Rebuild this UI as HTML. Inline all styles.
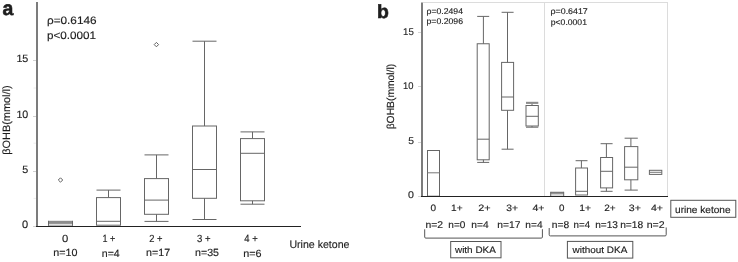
<!DOCTYPE html>
<html><head><meta charset="utf-8"><style>
html,body{margin:0;padding:0;background:#fff;}
body{width:738px;height:262px;overflow:hidden;}
svg{display:block;}
text{font-family:"Liberation Sans",Arial,sans-serif;text-rendering:geometricPrecision;}
</style></head><body>
<svg width="738" height="262" viewBox="0 0 738 262">
<rect width="738" height="262" fill="#fff"/>
<text transform="translate(2.42,15.00) scale(0.982,1)" style="font-size:19.80px;font-weight:bold;fill:#1e1e1e;stroke:#1e1e1e;stroke-width:0.6px;">a</text>
<line x1="37" y1="2" x2="37" y2="226.5" stroke="#7c7c7c" stroke-width="2"/>
<line x1="33" y1="226.5" x2="36" y2="226.5" stroke="#d0d0d0" stroke-width="1"/>
<line x1="33" y1="171.5" x2="36" y2="171.5" stroke="#d0d0d0" stroke-width="1"/>
<line x1="33" y1="116.5" x2="36" y2="116.5" stroke="#d0d0d0" stroke-width="1"/>
<line x1="33" y1="60.5" x2="36" y2="60.5" stroke="#d0d0d0" stroke-width="1"/>
<line x1="33.5" y1="198.4" x2="36" y2="198.4" stroke="#ececec" stroke-width="1"/>
<line x1="33.5" y1="143.2" x2="36" y2="143.2" stroke="#ececec" stroke-width="1"/>
<line x1="33.5" y1="88.0" x2="36" y2="88.0" stroke="#ececec" stroke-width="1"/>
<text transform="translate(16.39,61.60) scale(1.015,1)" style="font-size:10.60px;fill:#1e1e1e;stroke:#1e1e1e;stroke-width:0.15px;">15</text>
<text transform="translate(16.40,117.60) scale(1.009,1)" style="font-size:10.60px;fill:#1e1e1e;stroke:#1e1e1e;stroke-width:0.15px;">10</text>
<text transform="translate(22.37,173.10) scale(1.013,1)" style="font-size:10.60px;fill:#1e1e1e;stroke:#1e1e1e;stroke-width:0.15px;">5</text>
<text transform="translate(21.96,228.10) scale(1.042,1)" style="font-size:10.60px;fill:#1e1e1e;stroke:#1e1e1e;stroke-width:0.15px;">0</text>
<text transform="translate(10.30,154.76) rotate(-90) scale(1.030,1)" style="font-size:10.60px;fill:#1e1e1e;stroke:#1e1e1e;stroke-width:0.15px;">βOHB(mmol/l)</text>
<text transform="translate(46.93,23.80) scale(1.092,1)" style="font-size:10.80px;fill:#1e1e1e;stroke:#1e1e1e;stroke-width:0.15px;">ρ=0.6146</text>
<text transform="translate(46.94,38.60) scale(1.082,1)" style="font-size:10.80px;fill:#1e1e1e;stroke:#1e1e1e;stroke-width:0.15px;">p&lt;0.0001</text>
<rect x="48.5" y="220.8" width="24" height="3.1" fill="#8c8c8c"/>
<line x1="48.5" y1="220.8" x2="48.5" y2="226" stroke="#666" stroke-width="1"/>
<line x1="72.5" y1="220.8" x2="72.5" y2="226" stroke="#666" stroke-width="1"/>
<line x1="48.5" y1="225.2" x2="72.5" y2="225.2" stroke="#999" stroke-width="1"/>
<path d="M60.5 177.8L62.7 180L60.5 182.2L58.3 180Z" fill="none" stroke="#606060" stroke-width="1"/>
<line x1="96.5" y1="190.1" x2="120.5" y2="190.1" stroke="#666" stroke-width="1"/>
<line x1="108.5" y1="190.1" x2="108.5" y2="197.6" stroke="#666" stroke-width="1"/>
<rect x="96.5" y="197.6" width="24.0" height="27.599999999999994" stroke="#666" stroke-width="1" fill="none"/>
<line x1="96.5" y1="221.3" x2="120.5" y2="221.3" stroke="#666" stroke-width="1"/>
<line x1="144.5" y1="154.9" x2="168.5" y2="154.9" stroke="#666" stroke-width="1"/>
<line x1="156.5" y1="154.9" x2="156.5" y2="178.6" stroke="#666" stroke-width="1"/>
<line x1="144.5" y1="221.4" x2="168.5" y2="221.4" stroke="#666" stroke-width="1"/>
<line x1="156.5" y1="214.3" x2="156.5" y2="221.4" stroke="#666" stroke-width="1"/>
<rect x="144.5" y="178.6" width="24.0" height="35.70000000000002" stroke="#666" stroke-width="1" fill="none"/>
<line x1="144.5" y1="200.1" x2="168.5" y2="200.1" stroke="#666" stroke-width="1"/>
<path d="M156.4 42.4L158.6 44.6L156.4 46.800000000000004L154.20000000000002 44.6Z" fill="none" stroke="#606060" stroke-width="1"/>
<line x1="192.5" y1="41.2" x2="216.5" y2="41.2" stroke="#666" stroke-width="1"/>
<line x1="204.5" y1="41.2" x2="204.5" y2="126.0" stroke="#666" stroke-width="1"/>
<line x1="192.5" y1="219.5" x2="216.5" y2="219.5" stroke="#666" stroke-width="1"/>
<line x1="204.5" y1="198.3" x2="204.5" y2="219.5" stroke="#666" stroke-width="1"/>
<rect x="192.5" y="126.0" width="24.0" height="72.30000000000001" stroke="#666" stroke-width="1" fill="none"/>
<line x1="192.5" y1="169.5" x2="216.5" y2="169.5" stroke="#666" stroke-width="1"/>
<line x1="240.5" y1="131.9" x2="264.5" y2="131.9" stroke="#666" stroke-width="1"/>
<line x1="252.5" y1="131.9" x2="252.5" y2="138.6" stroke="#666" stroke-width="1"/>
<line x1="240.5" y1="204.2" x2="264.5" y2="204.2" stroke="#666" stroke-width="1"/>
<line x1="252.5" y1="200.8" x2="252.5" y2="204.2" stroke="#666" stroke-width="1"/>
<rect x="240.5" y="138.6" width="24.0" height="62.20000000000002" stroke="#666" stroke-width="1" fill="none"/>
<line x1="240.5" y1="153.3" x2="264.5" y2="153.3" stroke="#666" stroke-width="1"/>
<line x1="36" y1="226.5" x2="301" y2="226.5" stroke="#222" stroke-width="1"/>
<text transform="translate(61.95,241.90) scale(1.082,1)" style="font-size:10.40px;fill:#1e1e1e;stroke:#1e1e1e;stroke-width:0.15px;">0</text>
<text transform="translate(102.42,241.90) scale(0.869,1)" style="font-size:10.40px;fill:#1e1e1e;stroke:#1e1e1e;stroke-width:0.15px;">1 +</text>
<text transform="translate(149.23,241.90) scale(0.903,1)" style="font-size:10.40px;fill:#1e1e1e;stroke:#1e1e1e;stroke-width:0.15px;">2 +</text>
<text transform="translate(197.02,241.90) scale(0.918,1)" style="font-size:10.40px;fill:#1e1e1e;stroke:#1e1e1e;stroke-width:0.15px;">3 +</text>
<text transform="translate(244.31,241.90) scale(0.912,1)" style="font-size:10.40px;fill:#1e1e1e;stroke:#1e1e1e;stroke-width:0.15px;">4 +</text>
<text transform="translate(53.30,256.40) scale(1.033,1)" style="font-size:10.40px;fill:#1e1e1e;stroke:#1e1e1e;stroke-width:0.15px;">n=10</text>
<text transform="translate(101.81,256.50) scale(1.016,1)" style="font-size:10.40px;fill:#1e1e1e;stroke:#1e1e1e;stroke-width:0.15px;">n=4</text>
<text transform="translate(146.11,256.40) scale(1.027,1)" style="font-size:10.40px;fill:#1e1e1e;stroke:#1e1e1e;stroke-width:0.15px;">n=17</text>
<text transform="translate(195.11,256.40) scale(1.022,1)" style="font-size:10.40px;fill:#1e1e1e;stroke:#1e1e1e;stroke-width:0.15px;">n=35</text>
<text transform="translate(243.30,256.50) scale(1.040,1)" style="font-size:10.40px;fill:#1e1e1e;stroke:#1e1e1e;stroke-width:0.15px;">n=6</text>
<text transform="translate(289.41,247.50) scale(0.981,1)" style="font-size:10.80px;fill:#1e1e1e;stroke:#1e1e1e;stroke-width:0.15px;">Urine ketone</text>
<text transform="translate(376.94,18.10) scale(1.021,1)" style="font-size:19.00px;font-weight:bold;fill:#1e1e1e;stroke:#1e1e1e;stroke-width:0.6px;">b</text>
<line x1="423" y1="2.5" x2="668" y2="2.5" stroke="#dcdcdc" stroke-width="1"/>
<line x1="667.5" y1="2.5" x2="667.5" y2="196" stroke="#dcdcdc" stroke-width="1"/>
<line x1="544.5" y1="2.5" x2="544.5" y2="196" stroke="#dcdcdc" stroke-width="1"/>
<line x1="422" y1="2.5" x2="422" y2="196.5" stroke="#7c7c7c" stroke-width="2"/>
<line x1="418" y1="32.5" x2="421" y2="32.5" stroke="#d4d4d4" stroke-width="1"/>
<line x1="418" y1="86.5" x2="421" y2="86.5" stroke="#d4d4d4" stroke-width="1"/>
<line x1="418" y1="142.5" x2="421" y2="142.5" stroke="#d4d4d4" stroke-width="1"/>
<line x1="418" y1="196.5" x2="421" y2="196.5" stroke="#d4d4d4" stroke-width="1"/>
<text transform="translate(403.08,34.50) scale(0.985,1)" style="font-size:9.80px;fill:#1e1e1e;stroke:#1e1e1e;stroke-width:0.15px;">15</text>
<text transform="translate(403.00,88.50) scale(0.959,1)" style="font-size:9.80px;fill:#1e1e1e;stroke:#1e1e1e;stroke-width:0.15px;">10</text>
<text transform="translate(408.19,143.80) scale(1.053,1)" style="font-size:9.80px;fill:#1e1e1e;stroke:#1e1e1e;stroke-width:0.15px;">5</text>
<text transform="translate(407.97,198.30) scale(1.084,1)" style="font-size:9.80px;fill:#1e1e1e;stroke:#1e1e1e;stroke-width:0.15px;">0</text>
<text transform="translate(394.30,129.32) rotate(-90) scale(1.001,1)" style="font-size:10.30px;fill:#1e1e1e;stroke:#1e1e1e;stroke-width:0.15px;">βOHB(mmol/l)</text>
<text transform="translate(426.54,13.50) scale(1.042,1)" style="font-size:8.30px;fill:#1e1e1e;stroke:#1e1e1e;stroke-width:0.15px;">ρ=0.2494</text>
<text transform="translate(426.53,24.30) scale(1.047,1)" style="font-size:8.30px;fill:#1e1e1e;stroke:#1e1e1e;stroke-width:0.15px;">p=0.2096</text>
<text transform="translate(550.53,13.50) scale(1.065,1)" style="font-size:8.30px;fill:#1e1e1e;stroke:#1e1e1e;stroke-width:0.15px;">ρ=0.6417</text>
<text transform="translate(550.74,24.50) scale(1.040,1)" style="font-size:8.30px;fill:#1e1e1e;stroke:#1e1e1e;stroke-width:0.15px;">p&lt;0.0001</text>
<rect x="427.5" y="150.5" width="12.0" height="45.69999999999999" stroke="#666" stroke-width="1" fill="none"/>
<line x1="427.5" y1="172.8" x2="439.5" y2="172.8" stroke="#777" stroke-width="1"/>
<line x1="477.2" y1="16.4" x2="489.2" y2="16.4" stroke="#666" stroke-width="1"/>
<line x1="483.4" y1="16.4" x2="483.4" y2="43.75" stroke="#666" stroke-width="1"/>
<line x1="477.2" y1="162.4" x2="489.2" y2="162.4" stroke="#666" stroke-width="1"/>
<line x1="483.4" y1="159.8" x2="483.4" y2="162.4" stroke="#666" stroke-width="1"/>
<rect x="477.2" y="43.75" width="12.0" height="116.05000000000001" stroke="#666" stroke-width="1" fill="none"/>
<line x1="477.2" y1="139.2" x2="489.2" y2="139.2" stroke="#666" stroke-width="1"/>
<line x1="501.6" y1="12.3" x2="513.6" y2="12.3" stroke="#666" stroke-width="1"/>
<line x1="507.5" y1="12.3" x2="507.5" y2="62.4" stroke="#666" stroke-width="1"/>
<line x1="501.6" y1="149.2" x2="513.6" y2="149.2" stroke="#666" stroke-width="1"/>
<line x1="507.5" y1="110.3" x2="507.5" y2="149.2" stroke="#666" stroke-width="1"/>
<rect x="501.6" y="62.4" width="12.0" height="47.9" stroke="#666" stroke-width="1" fill="none"/>
<line x1="501.6" y1="97.0" x2="513.6" y2="97.0" stroke="#666" stroke-width="1"/>
<rect x="526" y="101.8" width="12.3" height="2.1" fill="#8c8c8c"/>
<line x1="532" y1="103.9" x2="532" y2="105.5" stroke="#666" stroke-width="1"/>
<line x1="526" y1="127.2" x2="538.3" y2="127.2" stroke="#666" stroke-width="1"/>
<line x1="532" y1="126.0" x2="532" y2="127.2" stroke="#666" stroke-width="1"/>
<rect x="526" y="105.5" width="12.299999999999955" height="20.5" stroke="#666" stroke-width="1" fill="none"/>
<line x1="526" y1="116.3" x2="538.3" y2="116.3" stroke="#666" stroke-width="1"/>
<rect x="550.7" y="191.8" width="13" height="4" fill="#d4d4d4"/>
<rect x="550.7" y="191.8" width="13" height="1.9" fill="#7a7a7a"/>
<line x1="550.7" y1="191.8" x2="550.7" y2="196.2" stroke="#666" stroke-width="1"/>
<line x1="563.7" y1="191.8" x2="563.7" y2="196.2" stroke="#666" stroke-width="1"/>
<line x1="575.6" y1="160.7" x2="587.5" y2="160.7" stroke="#666" stroke-width="1"/>
<line x1="581.4" y1="160.7" x2="581.4" y2="168.0" stroke="#666" stroke-width="1"/>
<rect x="575.6" y="168.0" width="11.899999999999977" height="27.0" stroke="#666" stroke-width="1" fill="none"/>
<line x1="575.6" y1="191.3" x2="587.5" y2="191.3" stroke="#666" stroke-width="1"/>
<line x1="600.6" y1="143.7" x2="612.6" y2="143.7" stroke="#666" stroke-width="1"/>
<line x1="606.4" y1="143.7" x2="606.4" y2="157.5" stroke="#666" stroke-width="1"/>
<line x1="600.6" y1="191.3" x2="612.6" y2="191.3" stroke="#666" stroke-width="1"/>
<line x1="606.4" y1="187.9" x2="606.4" y2="191.3" stroke="#666" stroke-width="1"/>
<rect x="600.6" y="157.5" width="12.0" height="30.400000000000006" stroke="#666" stroke-width="1" fill="none"/>
<line x1="600.6" y1="171.3" x2="612.6" y2="171.3" stroke="#666" stroke-width="1"/>
<line x1="624.6" y1="138.2" x2="637.8" y2="138.2" stroke="#666" stroke-width="1"/>
<line x1="630.9" y1="138.2" x2="630.9" y2="146.6" stroke="#666" stroke-width="1"/>
<line x1="624.6" y1="190.1" x2="637.8" y2="190.1" stroke="#666" stroke-width="1"/>
<line x1="630.9" y1="179.8" x2="630.9" y2="190.1" stroke="#666" stroke-width="1"/>
<rect x="624.6" y="146.6" width="13.199999999999932" height="33.20000000000002" stroke="#666" stroke-width="1" fill="none"/>
<line x1="624.6" y1="167.2" x2="637.8" y2="167.2" stroke="#666" stroke-width="1"/>
<rect x="649.4" y="170.3" width="12.399999999999977" height="4.099999999999994" stroke="#666" stroke-width="1" fill="none"/>
<line x1="649.4" y1="172.3" x2="661.8" y2="172.3" stroke="#777" stroke-width="1"/>
<line x1="421" y1="196.5" x2="668" y2="196.5" stroke="#222" stroke-width="1"/>
<text transform="translate(430.60,210.90) scale(1.087,1)" style="font-size:9.20px;fill:#1e1e1e;stroke:#1e1e1e;stroke-width:0.15px;">0</text>
<text transform="translate(451.04,210.90) scale(1.103,1)" style="font-size:9.20px;fill:#1e1e1e;stroke:#1e1e1e;stroke-width:0.15px;">1+</text>
<text transform="translate(478.16,210.90) scale(1.181,1)" style="font-size:9.20px;fill:#1e1e1e;stroke:#1e1e1e;stroke-width:0.15px;">2+</text>
<text transform="translate(506.28,210.90) scale(1.128,1)" style="font-size:9.20px;fill:#1e1e1e;stroke:#1e1e1e;stroke-width:0.15px;">3+</text>
<text transform="translate(532.49,210.90) scale(1.148,1)" style="font-size:9.20px;fill:#1e1e1e;stroke:#1e1e1e;stroke-width:0.15px;">4+</text>
<text transform="translate(559.11,210.90) scale(1.064,1)" style="font-size:9.20px;fill:#1e1e1e;stroke:#1e1e1e;stroke-width:0.15px;">0</text>
<text transform="translate(579.32,210.90) scale(1.124,1)" style="font-size:9.20px;fill:#1e1e1e;stroke:#1e1e1e;stroke-width:0.15px;">1+</text>
<text transform="translate(604.20,210.90) scale(1.087,1)" style="font-size:9.20px;fill:#1e1e1e;stroke:#1e1e1e;stroke-width:0.15px;">2+</text>
<text transform="translate(628.87,210.90) scale(1.159,1)" style="font-size:9.20px;fill:#1e1e1e;stroke:#1e1e1e;stroke-width:0.15px;">3+</text>
<text transform="translate(650.99,210.90) scale(1.148,1)" style="font-size:9.20px;fill:#1e1e1e;stroke:#1e1e1e;stroke-width:0.15px;">4+</text>
<text transform="translate(425.53,228.20) scale(1.059,1)" style="font-size:9.80px;fill:#1e1e1e;stroke:#1e1e1e;stroke-width:0.15px;">n=2</text>
<text transform="translate(448.35,228.20) scale(1.024,1)" style="font-size:9.80px;fill:#1e1e1e;stroke:#1e1e1e;stroke-width:0.15px;">n=0</text>
<text transform="translate(471.34,228.20) scale(1.040,1)" style="font-size:9.80px;fill:#1e1e1e;stroke:#1e1e1e;stroke-width:0.15px;">n=4</text>
<text transform="translate(497.23,228.20) scale(1.047,1)" style="font-size:9.80px;fill:#1e1e1e;stroke:#1e1e1e;stroke-width:0.15px;">n=17</text>
<text transform="translate(525.34,228.20) scale(1.033,1)" style="font-size:9.80px;fill:#1e1e1e;stroke:#1e1e1e;stroke-width:0.15px;">n=4</text>
<text transform="translate(551.83,227.70) scale(1.046,1)" style="font-size:9.80px;fill:#1e1e1e;stroke:#1e1e1e;stroke-width:0.15px;">n=8</text>
<text transform="translate(573.57,227.70) scale(0.995,1)" style="font-size:9.80px;fill:#1e1e1e;stroke:#1e1e1e;stroke-width:0.15px;">n=4</text>
<text transform="translate(595.15,227.70) scale(1.028,1)" style="font-size:9.80px;fill:#1e1e1e;stroke:#1e1e1e;stroke-width:0.15px;">n=13</text>
<text transform="translate(620.14,227.70) scale(1.042,1)" style="font-size:9.80px;fill:#1e1e1e;stroke:#1e1e1e;stroke-width:0.15px;">n=18</text>
<text transform="translate(646.71,227.70) scale(1.079,1)" style="font-size:9.80px;fill:#1e1e1e;stroke:#1e1e1e;stroke-width:0.15px;">n=2</text>
<path d="M424.7 229.3 V237 Q424.7 238.1 425.8 238.1 H541.3 Q542.4 238.1 542.4 237 V229.2" fill="none" stroke="#555" stroke-width="1"/>
<path d="M549.2 228 V234.8 Q549.2 235.9 550.3 235.9 H665.1 Q666.2 235.9 666.2 234.8 V227.5" fill="none" stroke="#555" stroke-width="1"/>
<rect x="450.7" y="241.5" width="50.30000000000001" height="16.30000000000001" stroke="#555" stroke-width="1" fill="none"/>
<text transform="translate(455.00,252.80) scale(1.067,1)" style="font-size:9.30px;fill:#1e1e1e;stroke:#1e1e1e;stroke-width:0.15px;">with DKA</text>
<rect x="567.4" y="241.4" width="65.39999999999998" height="16.700000000000017" stroke="#555" stroke-width="1" fill="none"/>
<text transform="translate(572.60,252.90) scale(1.069,1)" style="font-size:9.30px;fill:#1e1e1e;stroke:#1e1e1e;stroke-width:0.15px;">without DKA</text>
<rect x="670.8" y="200.3" width="65.0" height="17.0" stroke="#555" stroke-width="1" fill="none"/>
<text transform="translate(675.04,212.50) scale(1.029,1)" style="font-size:9.80px;fill:#1e1e1e;stroke:#1e1e1e;stroke-width:0.15px;">urine ketone</text>
</svg>
</body></html>
